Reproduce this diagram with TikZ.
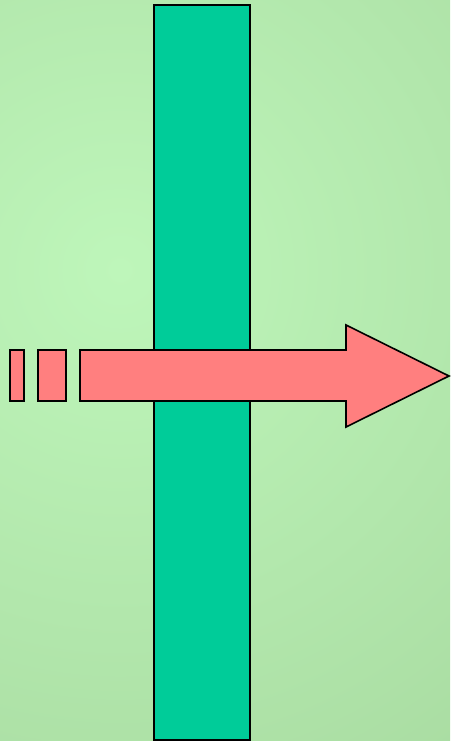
\documentclass[tikz,border=0pt]{standalone}
\usepackage{tikz}
\usepackage{xcolor}
\definecolor{bglight}{HTML}{BEF6BA}
\definecolor{bgdark}{HTML}{A6D89E}
\definecolor{wallteal}{HTML}{00CC99}
\definecolor{arrowred}{HTML}{FF7F7F}
\pgfdeclareradialshading{bgglow}{\pgfpoint{0bp}{0bp}}{%
  color(0bp)=(bglight); color(30bp)=(bgdark); color(50bp)=(bgdark)}

\begin{document}
\begin{tikzpicture}[
      x=1pt, y=-1pt,
      wall/.style={draw=black, line width=1.6pt, fill=wallteal},
      ray/.style={draw=black, line width=1.6pt, fill=arrowred, line join=miter}
    ]
    % background
    \useasboundingbox (0,0) rectangle (450,741);
    \begin{scope}
      \clip (0,0) rectangle (450,741);
      \shade[shading=bgglow] (120,270) circle (580);
    \end{scope}

    % barrier
    \draw[wall] (154,5) rectangle (250,740);

    % dashes behind the arrow
    \draw[ray] (10,350) rectangle (24,401);
    \draw[ray] (38,350) rectangle (66,401);

    % arrow
    \draw[ray] (80,350) -- (346,350) -- (346,325) -- (449,376)
      -- (346,427) -- (346,401) -- (80,401) -- cycle;
\end{tikzpicture}
\end{document}
